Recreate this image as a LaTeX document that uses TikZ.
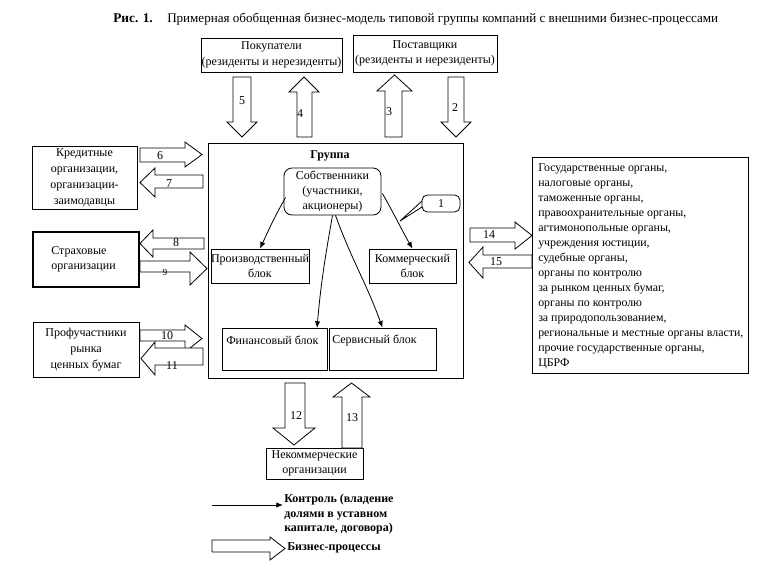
\documentclass[tikz,border=0pt]{standalone}
\usepackage{fontspec}
\setmainfont{Liberation Serif}
\usetikzlibrary{arrows.meta,fit}
\newcommand\BArrH[7]{\draw[barrow] (#1,#4) -- (#2,#4) -- (#2,#6) -- (#3,{(#6+#7)/2}) -- (#2,#7) -- (#2,#5) -- (#1,#5) -- cycle;}
\newcommand\BArrV[7]{\draw[barrow] (#4,#1) -- (#4,#2) -- (#6,#2) -- ({(#6+#7)/2},#3) -- (#7,#2) -- (#5,#2) -- (#5,#1) -- cycle;}
\begin{document}
\begin{tikzpicture}[x=0.75pt,y=-0.75pt,
  box/.style={draw,line width=0.6pt,inner sep=0pt},
  rbox/.style={draw,line width=0.6pt,inner sep=0pt,rounded corners=6pt},
  txt/.style={inner sep=0pt,font=\fontsize{9}{11.5}\selectfont,align=center},
  num/.style={inner sep=0pt,font=\fontsize{9}{11}\selectfont},
  barrow/.style={draw,line width=0.6pt,fill=white,line join=miter},
  ctrl/.style={line width=0.6pt,-{Latex[length=5pt,width=4pt]}},
  legend/.style={inner sep=0pt,font=\fontsize{9}{11}\selectfont\bfseries,align=left}]
\useasboundingbox (0,0) rectangle (776,583);
% title
\node[anchor=base west,inner sep=0pt,font=\fontsize{10}{12}\selectfont\bfseries] (fig) at (113,22) {Рис. 1.};
\node[anchor=base west,inner sep=0pt,font=\fontsize{9.8}{12}\selectfont] (title) at (167,22) {Примерная обобщенная бизнес-модель типовой группы компаний с внешними бизнес-процессами};
% top boxes
\node[box,fit={(201,38) (342,72)}] (buyers) {};
\node[txt] at (buyers.center) {Покупатели\\(резиденты и нерезиденты)};
\node[box,fit={(353,35) (497,72)}] (suppliers) {};
\node[txt] at (suppliers.center) {Поставщики\\(резиденты и нерезиденты)};
% group
\node[box,fit={(208,143) (463,378)}] (group) {};
\node[inner sep=0pt,font=\fontsize{9}{11}\selectfont\bfseries] (grouplbl) at (330,156) {Группа};
\node[rbox,fit={(284,168) (381,215)}] (owners) {};
\node[txt] at (owners.center) {Собственники\\(участники,\\акционеры)};
\node[box,fit={(211,249) (309,283)}] (prod) {};
\node[txt] at (prod.center) {Производственный\\блок};
\node[box,fit={(369,249) (456,283)}] (comm) {};
\node[txt] at (comm.center) {Коммерческий\\блок};
\node[box,fit={(222,328) (327,370)}] (fin) {};
\node[txt,anchor=west] at (226,340) {Финансовый блок};
\node[box,fit={(329,328) (436,370)}] (serv) {};
\node[txt,anchor=west] at (332,340) {Сервисный блок};
% control arrows
\draw[ctrl] (owners.west) ++(2,6) to[out=240,in=65] (prod.north);
\draw[ctrl] (owners.south) to[out=260,in=85] (317,328);
\draw[ctrl] (owners.south) ++(3,0) to[out=290,in=110] (serv.north);
\coordinate (cp) at (400,221);
\draw[ctrl] (owners.east) ++(1,2) to[out=300,in=120] (comm.north);
% callout 1
\node[rbox,rounded corners=4pt,fit={(422,195) (460,212)}] (call) {};
\node[num] at (call.center) {1};
\draw[line width=0.6pt] (422,201) -- (cp) -- (422,207);
% left boxes
\node[box,fit={(32,146) (137,209)}] (credit) {};
\node[txt,font=\fontsize{9}{12}\selectfont] at (credit.center) {Кредитные\\организации,\\организации-\\заимодавцы};
\node[box,line width=1.2pt,fit={(33,232) (139,287)}] (insur) {};
\node[txt,align=left,anchor=west] at (51,259.5) {Страховые\\организации};
\node[box,fit={(33,322) (139,377)}] (prof) {};
\node[txt,font=\fontsize{9}{12}\selectfont] at (prof.center) {Профучастники\\рынка\\ценных бумаг};
% government
\node[box,fit={(532,157) (748,373)}] (gov) {};
\node[txt,align=left,anchor=north west,font=\fontsize{8.9}{11.25}\selectfont] at (538,163) {Государственные органы,\\налоговые органы,\\таможенные органы,\\правоохранительные органы,\\агтимонопольные органы,\\учреждения юстиции,\\судебные органы,\\органы по контролю\\за рынком ценных бумаг,\\органы по контролю\\за природопользованием,\\региональные и местные органы власти,\\прочие государственные органы,\\ЦБРФ};
% noncommercial
\node[box,fit={(266,448) (363,479)}] (noncom) {};
\node[txt] at (noncom.center) {Некоммерческие\\организации};
% business process arrows
\BArrV{77}{122}{137}{233}{251}{227}{257}
\BArrV{137}{92}{77}{297}{312}{289}{319}
\BArrV{137}{91}{75}{385}{402}{377}{412}
\BArrV{77}{122}{137}{448}{464}{441}{471}
\BArrH{140}{185}{202}{148}{162}{142}{167}
\BArrH{203}{155}{140}{175}{188}{168}{197}
\BArrH{204}{153}{140}{238}{249}{230}{257}
\BArrH{140}{190}{207}{261}{272}{252}{285}
\BArrH{140}{185}{202}{330}{341}{325}{352}
\BArrH{203}{155}{141}{348}{365}{342}{375}
\BArrH{470}{515}{532}{228}{242}{222}{249}
\BArrH{532}{483}{469}{255}{268}{247}{278}
\BArrV{383}{428}{445}{285}{305}{273}{315}
\BArrV{448}{397}{383}{342}{362}{333}{370}
% numbers
\node[num] (n5) at (242,101) {5};
\node[num] (n4) at (300,114) {4};
\node[num] (n3) at (389,112) {3};
\node[num] (n2) at (455,108) {2};
\node[num] (n6) at (160,156) {6};
\node[num] (n7) at (169,184) {7};
\node[num] (n8) at (176,243) {8};
\node[num,font=\fontsize{7}{8}\selectfont] (n9) at (165,272) {9};
\node[num] (n10) at (167,336) {10};
\node[num] (n11) at (172,366) {11};
\node[num] (n14) at (489,235) {14};
\node[num] (n15) at (496,262) {15};
\node[num] (n12) at (296,416) {12};
\node[num] (n13) at (352,418) {13};
% legend
\coordinate (lg1) at (212,505);
\coordinate (lg2) at (283,505);
\draw[ctrl] (lg1) -- (lg2);
\node[legend,anchor=north west] (lgtxt) at (284,494) {Контроль (владение\\долями в уставном\\капитале, договора)};
\BArrH{212}{270}{285}{540}{552}{537}{560}
\node[legend,anchor=west] (lgbp) at (287,548) {Бизнес-процессы};
\end{tikzpicture}
\end{document}
